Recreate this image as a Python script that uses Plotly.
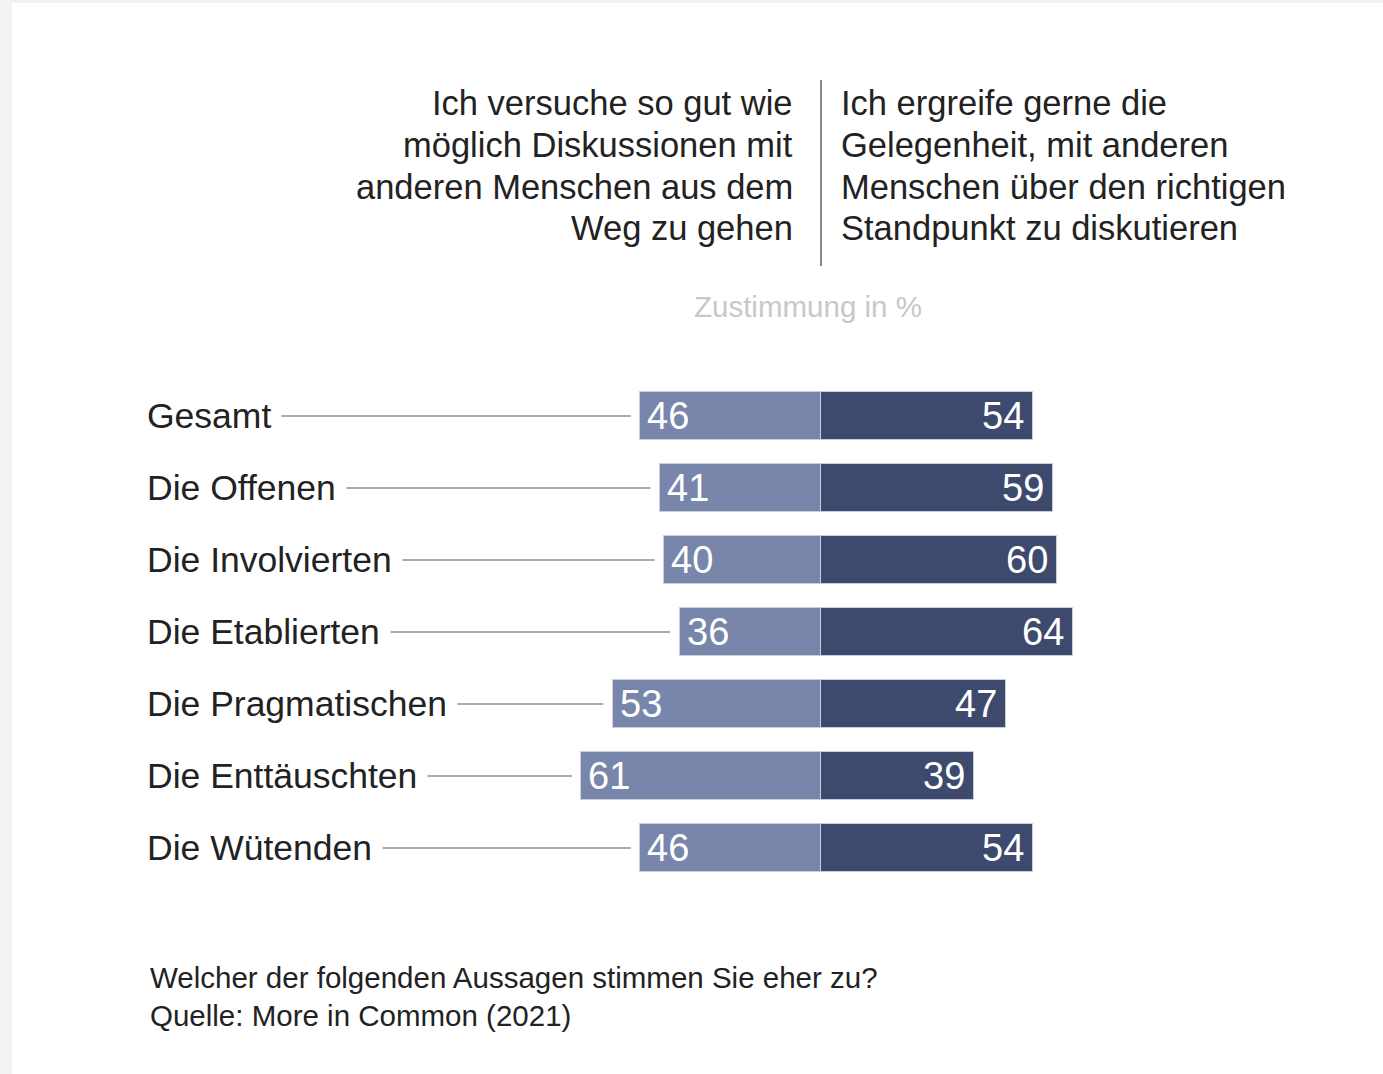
import plotly.graph_objects as go

categories = ["Gesamt", "Die Offenen", "Die Involvierten", "Die Etablierten",
              "Die Pragmatischen", "Die Enttäuschten", "Die Wütenden"]
avoid = [46, 41, 40, 36, 53, 61, 46]      # Diskussionen aus dem Weg gehen
discuss = [54, 59, 60, 64, 47, 39, 54]    # Gelegenheit ergreifen zu diskutieren

left_header = ["Ich versuche so gut wie", "möglich Diskussionen mit",
               "anderen Menschen aus dem", "Weg zu gehen"]
right_header = ["Ich ergreife gerne die", "Gelegenheit, mit anderen",
                "Menschen über den richtigen", "Standpunkt zu diskutieren"]
unit_label = "Zustimmung in %"
footer = ["Welcher der folgenden Aussagen stimmen Sie eher zu?",
          "Quelle: More in Common (2021)"]

W, H = 1383, 1074
FONT = "Liberation Sans, Arial, sans-serif"
LIGHT = "#7786aa"
DARK = "#3e4a6d"
TEXT = "#222222"

# layout geometry (pixels)
CENTER_PX = 821
PX_PER_UNIT = 3.93
ROW_PX = 72
FIRST_ROW_PX = 416

xmin = -CENTER_PX / PX_PER_UNIT
xmax = (W - CENTER_PX) / PX_PER_UNIT
ytop = -FIRST_ROW_PX / ROW_PX
ybot = (H - FIRST_ROW_PX) / ROW_PX


def px(x):
    return x / W


def py(y):
    return 1 - y / H


def xdata(xp):
    return (xp - CENTER_PX) / PX_PER_UNIT


fig = go.Figure()
fig.add_trace(go.Bar(
    y=categories, x=[-v for v in avoid], orientation="h",
    marker=dict(color=LIGHT, line=dict(color="#c9cedb", width=1)),
    width=0.667, hoverinfo="skip", showlegend=False,
))
fig.add_trace(go.Bar(
    y=categories, x=discuss, orientation="h",
    marker=dict(color=DARK, line=dict(color="#c9cedb", width=1)),
    width=0.667, hoverinfo="skip", showlegend=False,
))

annotations = []
shapes = []

# background frame (light grey strip on left and top)
shapes.append(dict(type="rect", xref="paper", yref="paper", x0=0, x1=px(12), y0=0, y1=1,
                   fillcolor="#f2f2f2", line=dict(width=0), layer="below"))
shapes.append(dict(type="rect", xref="paper", yref="paper", x0=0, x1=1, y0=py(3), y1=1,
                   fillcolor="#f2f2f2", line=dict(width=0), layer="below"))

# vertical divider between headers
shapes.append(dict(type="line", xref="x", yref="paper", x0=0, x1=0, y0=py(80), y1=py(266),
                   line=dict(color="#8a8a8a", width=2)))

GAP = 2.4
for cat, a, d in zip(categories, avoid, discuss):
    # connector line from label to bar
    shapes.append(dict(type="line", xref="x", yref="y", x0=xdata(150), x1=-(a + GAP),
                       y0=cat, y1=cat, line=dict(color="#ababab", width=2), layer="below"))
    # category label with white background covering the line
    annotations.append(dict(xref="paper", yref="y", x=px(136), y=cat, text=cat,
                            xanchor="left", yanchor="middle", showarrow=False,
                            bgcolor="white", borderpad=10,
                            font=dict(family=FONT, size=35.5, color=TEXT)))
    # values
    annotations.append(dict(xref="x", yref="y", x=-a, y=cat, text=str(a),
                            xanchor="left", yanchor="middle", showarrow=False, xshift=5,
                            font=dict(family=FONT, size=38, color="white")))
    annotations.append(dict(xref="x", yref="y", x=d, y=cat, text=str(d),
                            xanchor="right", yanchor="middle", showarrow=False, xshift=-7,
                            font=dict(family=FONT, size=38, color="white")))

HEADER_Y = [103, 145, 187, 228]
for line_l, line_r, yy in zip(left_header, right_header, HEADER_Y):
    annotations.append(dict(xref="paper", yref="paper", x=px(795), y=py(yy), text=line_l,
                            xanchor="right", yanchor="middle", showarrow=False,
                            font=dict(family=FONT, size=34.5, color=TEXT)))
    annotations.append(dict(xref="paper", yref="paper", x=px(839), y=py(yy), text=line_r,
                            xanchor="left", yanchor="middle", showarrow=False,
                            font=dict(family=FONT, size=34.5, color=TEXT)))

annotations.append(dict(xref="paper", yref="paper", x=px(808), y=py(307), text=unit_label,
                        xanchor="center", yanchor="middle", showarrow=False,
                        font=dict(family=FONT, size=29.5, color="#c8c8c8")))

FOOTER_Y = [977, 1015]
for line, yy in zip(footer, FOOTER_Y):
    annotations.append(dict(xref="paper", yref="paper", x=px(148), y=py(yy), text=line,
                            xanchor="left", yanchor="middle", showarrow=False,
                            font=dict(family=FONT, size=29.5, color=TEXT)))

fig.update_layout(
    width=W, height=H,
    margin=dict(l=0, r=0, t=0, b=0),
    paper_bgcolor="white", plot_bgcolor="rgba(0,0,0,0)",
    barmode="relative", bargap=0,
    xaxis=dict(range=[xmin, xmax], visible=False, fixedrange=True),
    yaxis=dict(range=[ybot, ytop], visible=False, fixedrange=True,
               categoryorder="array", categoryarray=categories),
    annotations=annotations, shapes=shapes,
)

fig.write_html("out.html", config={"displayModeBar": False},
               post_script="document.body.style.margin='0';document.body.style.overflow='hidden';")
